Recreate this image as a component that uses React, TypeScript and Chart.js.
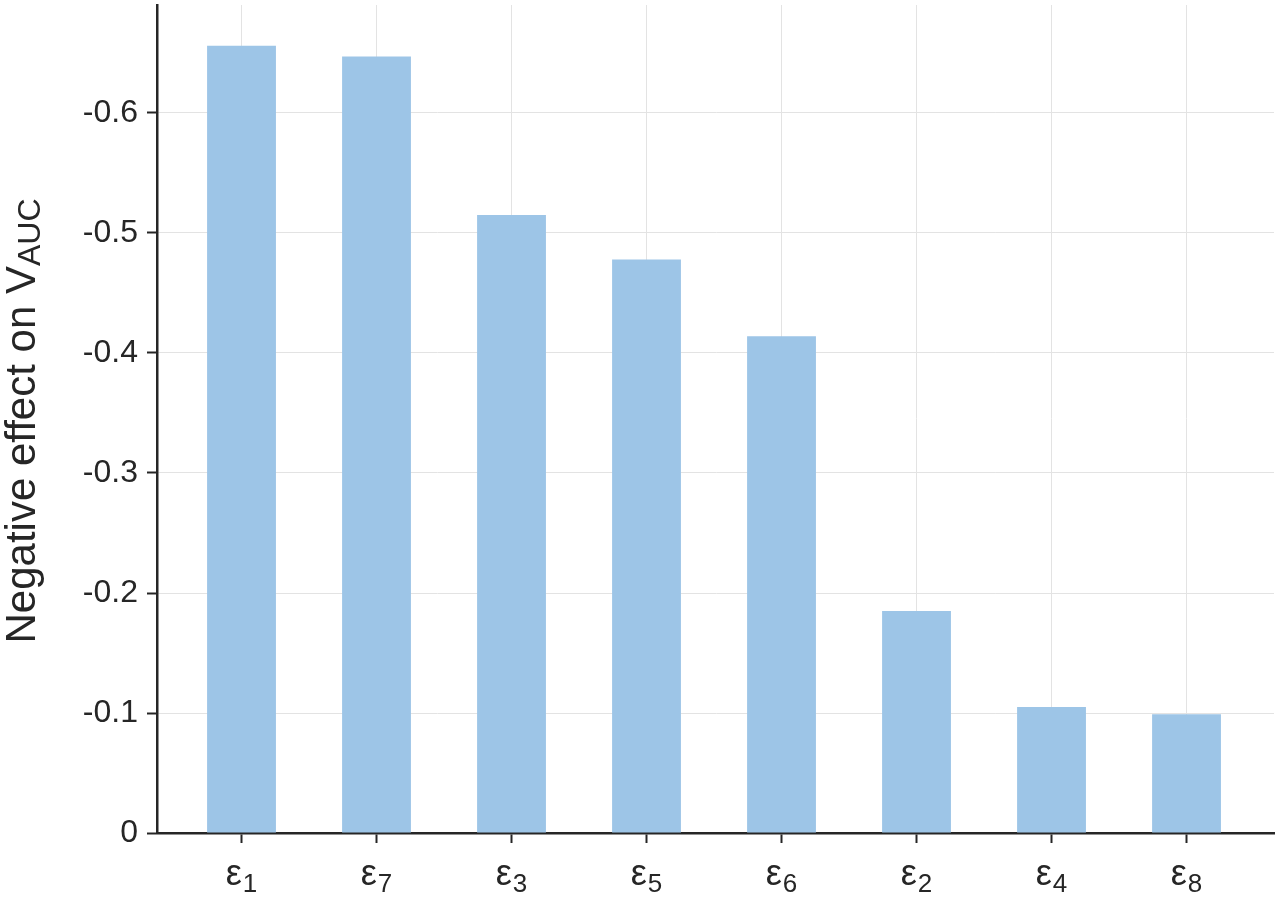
import React, { useEffect, useRef } from 'react';
import { Chart, registerables } from 'chart.js';

Chart.register(...registerables);

// bar order as in the figure (subscript of epsilon)
const subscripts = ['1', '7', '3', '5', '6', '2', '4', '8'];
// magnitude of the negative effect (axis labels show the sign)
const effects = [0.656, 0.647, 0.515, 0.478, 0.414, 0.185, 0.105, 0.099];
const yTitle = 'Negative effect on V';
const yTitleSub = 'AUC';

const FONT = '"Liberation Sans", Arial, Helvetica, sans-serif';
const INK = '#262626';

const labelPlugin = {
  id: 'epsLabels',
  afterDraw(chart) {
    const { ctx, chartArea } = chart;
    const xs = chart.scales.x;
    ctx.save();
    ctx.fillStyle = INK;
    ctx.textBaseline = 'alphabetic';
    ctx.textAlign = 'left';
    subscripts.forEach((s, i) => {
      const px = xs.getPixelForValue(i + 1);
      ctx.font = `36px ${FONT}`;
      const w1 = ctx.measureText('ε').width;
      ctx.font = `26px ${FONT}`;
      const w2 = ctx.measureText(s).width;
      const x0 = px - (w1 + w2 + 1) / 2;
      ctx.font = `36px ${FONT}`;
      ctx.fillText('ε', x0, chartArea.bottom + 52);
      ctx.font = `26px ${FONT}`;
      ctx.fillText(s, x0 + w1 + 1, chartArea.bottom + 59);
    });

    // y title with subscript
    ctx.translate(35, (chartArea.top + chartArea.bottom) / 2 + 2);
    ctx.rotate(-Math.PI / 2);
    ctx.font = `42px ${FONT}`;
    const m = ctx.measureText(yTitle).width;
    ctx.font = `32px ${FONT}`;
    const sw = ctx.measureText(yTitleSub).width;
    const start = -(m + sw) / 2;
    ctx.font = `42px ${FONT}`;
    ctx.fillText(yTitle, start, 0);
    ctx.font = `32px ${FONT}`;
    ctx.fillText(yTitleSub, start + m, 5);
    ctx.restore();
  },
};

const App = () => {
  const canvasRef = useRef(null);

  useEffect(() => {
    document.body.style.margin = '0';
    if (!canvasRef.current) return;

    const chart = new Chart(canvasRef.current, {
      type: 'bar',
      data: {
        datasets: [
          {
            data: effects.map((v, i) => ({ x: i + 1, y: v })),
            backgroundColor: '#9dc5e7',
            borderWidth: 0,
            categoryPercentage: 1,
            barPercentage: 0.51,
          },
        ],
      },
      options: {
        animation: false,
        responsive: true,
        maintainAspectRatio: false,
        layout: { padding: { top: 5, right: 6, left: 0, bottom: 0 } },
        plugins: {
          legend: { display: false },
          tooltip: { enabled: false },
        },
        scales: {
          x: {
            type: 'linear',
            offset: false,
            min: 0.374,
            max: 8.648,
            afterBuildTicks: (s) => {
              s.ticks = subscripts.map((_, i) => ({ value: i + 1 }));
            },
            afterFit: (s) => {
              s.height = 65;
              s.paddingLeft = 0;
              s.paddingRight = 0;
            },
            ticks: { display: false },
            grid: {
              offset: false,
              color: '#e3e3e3',
              lineWidth: 1,
              drawTicks: true,
              tickLength: 10,
              tickColor: INK,
              tickWidth: 2,
            },
            border: { display: true, color: INK, width: 2.5 },
          },
          y: {
            min: 0,
            max: 0.69,
            afterFit: (s) => {
              s.width = 157;
              s.paddingTop = 0;
              s.paddingBottom = 0;
            },
            ticks: {
              stepSize: 0.1,
              includeBounds: false,
              padding: 9,
              color: INK,
              font: { family: FONT, size: 32 },
              callback: (v) => (v === 0 ? '0' : '-' + Number(v).toFixed(1)),
            },
            grid: {
              color: '#e3e3e3',
              lineWidth: 1,
              drawTicks: true,
              tickLength: 10,
              tickColor: INK,
              tickWidth: 2,
            },
            border: { display: true, color: INK, width: 2.5 },
          },
        },
      },
      plugins: [labelPlugin],
    });

    return () => {
      chart.destroy();
    };
  }, []);

  return (
    <div style={{ position: 'relative', width: 1280, height: 898 }}>
      <canvas ref={canvasRef} />
    </div>
  );
};

export default App;
